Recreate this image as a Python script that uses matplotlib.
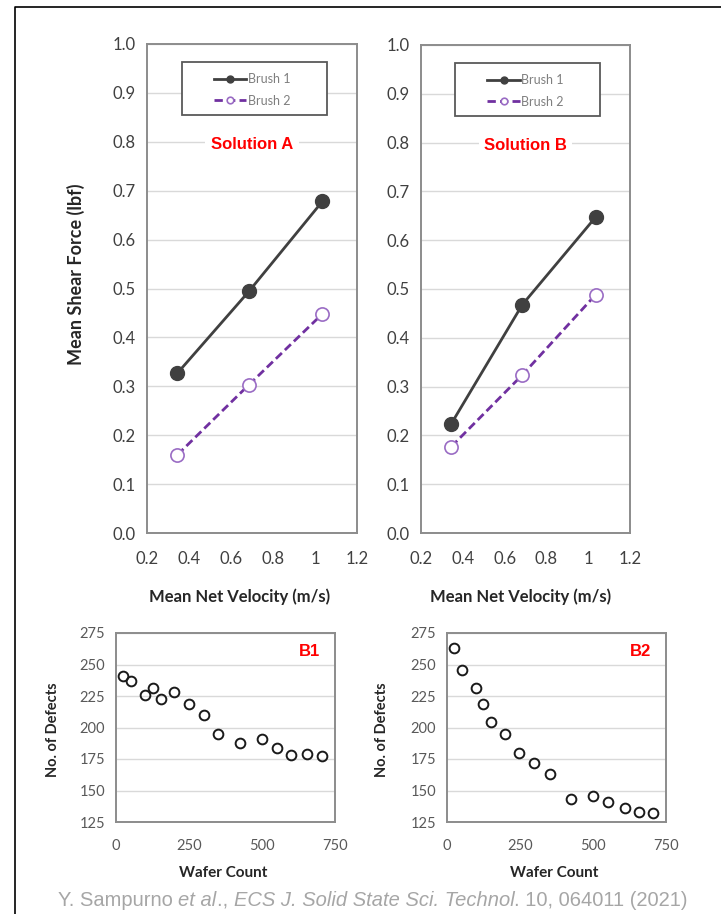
import numpy as np
import matplotlib
matplotlib.use("Agg")
import matplotlib.pyplot as plt
from matplotlib.patches import Rectangle
from matplotlib.lines import Line2D

# --- dados ---
velocidade = [0.345, 0.685, 1.035]
sol_a_brush1 = [0.327, 0.494, 0.678]
sol_a_brush2 = [0.160, 0.303, 0.448]
sol_b_brush1 = [0.224, 0.468, 0.647]
sol_b_brush2 = [0.177, 0.324, 0.488]

vel_ticks = [0.2, 0.4, 0.6, 0.8, 1.0, 1.2]
vel_labels = ["0.2", "0.4", "0.6", "0.8", "1", "1.2"]

wafer_b1 = [25, 50, 100, 125, 155, 200, 250, 300, 350, 425, 500, 550, 600, 655, 705]
defeitos_b1 = [241, 237, 226, 231, 223, 228, 219, 210, 195, 188, 191, 184, 178, 179, 177]
wafer_b2 = [25, 50, 100, 125, 152, 200, 248, 298, 352, 425, 500, 550, 610, 658, 707]
defeitos_b2 = [263, 246, 231, 219, 204, 195, 180, 172, 163, 143, 146, 141, 136, 133, 132]

fonte_eixo = "Lato"
fonte_rotulo = "Liberation Sans"
cinza_txt = "#404040"
roxo = "#7030a0"

fig = plt.figure(figsize=(7.21, 9.14), dpi=100, facecolor="white")
W, H = 721, 914


def eixo_px(x0, y0, x1, y1):
    # converte caixa em pixels (topo-esquerda) para coordenadas da figura
    return fig.add_axes([x0 / W, 1 - y1 / H, (x1 - x0) / W, (y1 - y0) / H])


def estilo(ax):
    for s in ax.spines.values():
        s.set_color("#8c8c8c")
        s.set_linewidth(1.4)
    ax.tick_params(length=0)
    ax.grid(axis="y", color="#d9d9d9", linewidth=1.0)
    ax.set_axisbelow(True)


def painel_forca(ax, b1, b2, titulo, xlab_x):
    estilo(ax)
    ax.plot(velocidade, b1, color=cinza_txt, linewidth=2, marker="o", markersize=10,
            markerfacecolor=cinza_txt, markeredgecolor=cinza_txt, label="Brush 1", zorder=3)
    ax.plot(velocidade, b2, color=roxo, linewidth=2, linestyle=(0, (3, 1.5)), marker="o",
            markersize=9.5, markerfacecolor="white", markeredgecolor="#9a6cc4",
            markeredgewidth=1.2, label="Brush 2", zorder=3)
    ax.set_xlim(0.2, 1.2)
    ax.set_ylim(0, 1.0)
    ax.set_xticks(vel_ticks)
    ax.set_xticklabels(vel_labels)
    yt = np.arange(0, 1.01, 0.1)
    ax.set_yticks(yt)
    ax.set_yticklabels([f"{v:.1f}" for v in yt])
    for lab in ax.get_xticklabels() + ax.get_yticklabels():
        lab.set_fontfamily(fonte_eixo)
        lab.set_fontsize(12)
        lab.set_color(cinza_txt)
    ax.tick_params(axis="x", pad=13)
    ax.tick_params(axis="y", pad=8)

    # caixa da legenda desenhada a parte (padding horizontal maior)
    ax.add_patch(Rectangle((0.165, 0.855), 0.69, 0.108, transform=ax.transAxes,
                           facecolor="white", edgecolor="#595959", linewidth=1.3, zorder=4))
    leg = ax.legend(loc="upper center", bbox_to_anchor=(0.5, 0.963), frameon=False,
                    markerscale=0.5, handlelength=2.6, handletextpad=0.1, labelspacing=0.75,
                    prop={"family": fonte_eixo, "size": 9})
    leg.set_zorder(5)
    for t in leg.get_texts():
        t.set_color("#7f7f7f")

    ax.text(0.5, 0.795, titulo, transform=ax.transAxes, ha="center", va="center",
            fontsize=12, fontweight="bold", color="#ff0000", family=fonte_rotulo,
            bbox=dict(facecolor="white", edgecolor="none", pad=4), zorder=4)

    ax.set_xlabel("Mean Net Velocity (m/s)", fontfamily=fonte_eixo, fontsize=12,
                  fontweight="bold", color="#262626")
    ax.xaxis.set_label_coords(xlab_x, -0.113)


def painel_defeitos(ax, x, y, rotulo):
    estilo(ax)
    ax.plot(x, y, linestyle="none", marker="o", markersize=7, markerfacecolor="none",
            markeredgecolor="#1a1a1a", markeredgewidth=1.4, zorder=3)
    ax.set_xlim(0, 750)
    ax.set_ylim(125, 275)
    ax.set_xticks([0, 250, 500, 750])
    ax.set_yticks(np.arange(125, 276, 25))
    for lab in ax.get_xticklabels() + ax.get_yticklabels():
        lab.set_fontfamily(fonte_eixo)
        lab.set_fontsize(10.5)
        lab.set_color("#595959")
    ax.tick_params(axis="x", pad=12)
    ax.tick_params(axis="y", pad=8)
    ax.text(0.885, 0.90, rotulo, transform=ax.transAxes, ha="center", va="center",
            fontsize=12, fontweight="bold", color="#ff0000", family=fonte_rotulo)
    ax.set_xlabel("Wafer Count", fontfamily=fonte_eixo, fontsize=11,
                  fontweight="bold", color="#262626")
    ax.xaxis.set_label_coords(0.49, -0.235)
    ax.set_ylabel("No. of Defects", fontfamily=fonte_eixo, fontsize=10.5,
                  fontweight="bold", color="#262626")


ax_a = eixo_px(147, 44, 357, 533)
painel_forca(ax_a, sol_a_brush1, sol_a_brush2, "Solution A", 0.44)
ax_a.set_ylabel("Mean Shear Force (lbf)", fontfamily=fonte_eixo, fontsize=13,
                fontweight="bold", color="#262626")
ax_a.yaxis.set_label_coords(-0.295, 0.53)

ax_b = eixo_px(421, 45, 630, 533)
painel_forca(ax_b, sol_b_brush1, sol_b_brush2, "Solution B", 0.475)

ax_b1 = eixo_px(116, 633, 335, 822)
painel_defeitos(ax_b1, wafer_b1, defeitos_b1, "B1")
ax_b1.yaxis.set_label_coords(-0.255, 0.49)

ax_b2 = eixo_px(447, 633, 666, 822)
painel_defeitos(ax_b2, wafer_b2, defeitos_b2, "B2")
ax_b2.yaxis.set_label_coords(-0.265, 0.49)

# moldura preta (esquerda e topo)
fig.add_artist(Line2D([15 / W, 15 / W, 1.0], [0.0, 1 - 7 / H, 1 - 7 / H],
                      color="black", linewidth=1.2))

# citacao em partes (italico no meio), encadeadas com annotate
partes = [("Y. Sampurno ", "normal"), ("et al", "italic"), ("., ", "normal"),
          ("ECS J. Solid State Sci. Technol", "italic"), (". 10, 064011 (2021)", "normal")]
cor_cit = "#a6a6a6"
tam_cit = 14.5
prev = fig.text(58 / W, 1 - 906 / H, partes[0][0], fontsize=tam_cit, color=cor_cit,
                family=fonte_rotulo, ha="left", va="baseline", style=partes[0][1])
for texto, estilo_f in partes[1:]:
    prev = fig.add_artist(plt.Annotation(texto, xy=(1, 0), xycoords=prev, xytext=(0, 0),
                                         textcoords="offset points", ha="left", va="bottom",
                                         fontsize=tam_cit, color=cor_cit, family=fonte_rotulo,
                                         style=estilo_f))

fig.savefig("out.png", dpi=100, facecolor="white")
